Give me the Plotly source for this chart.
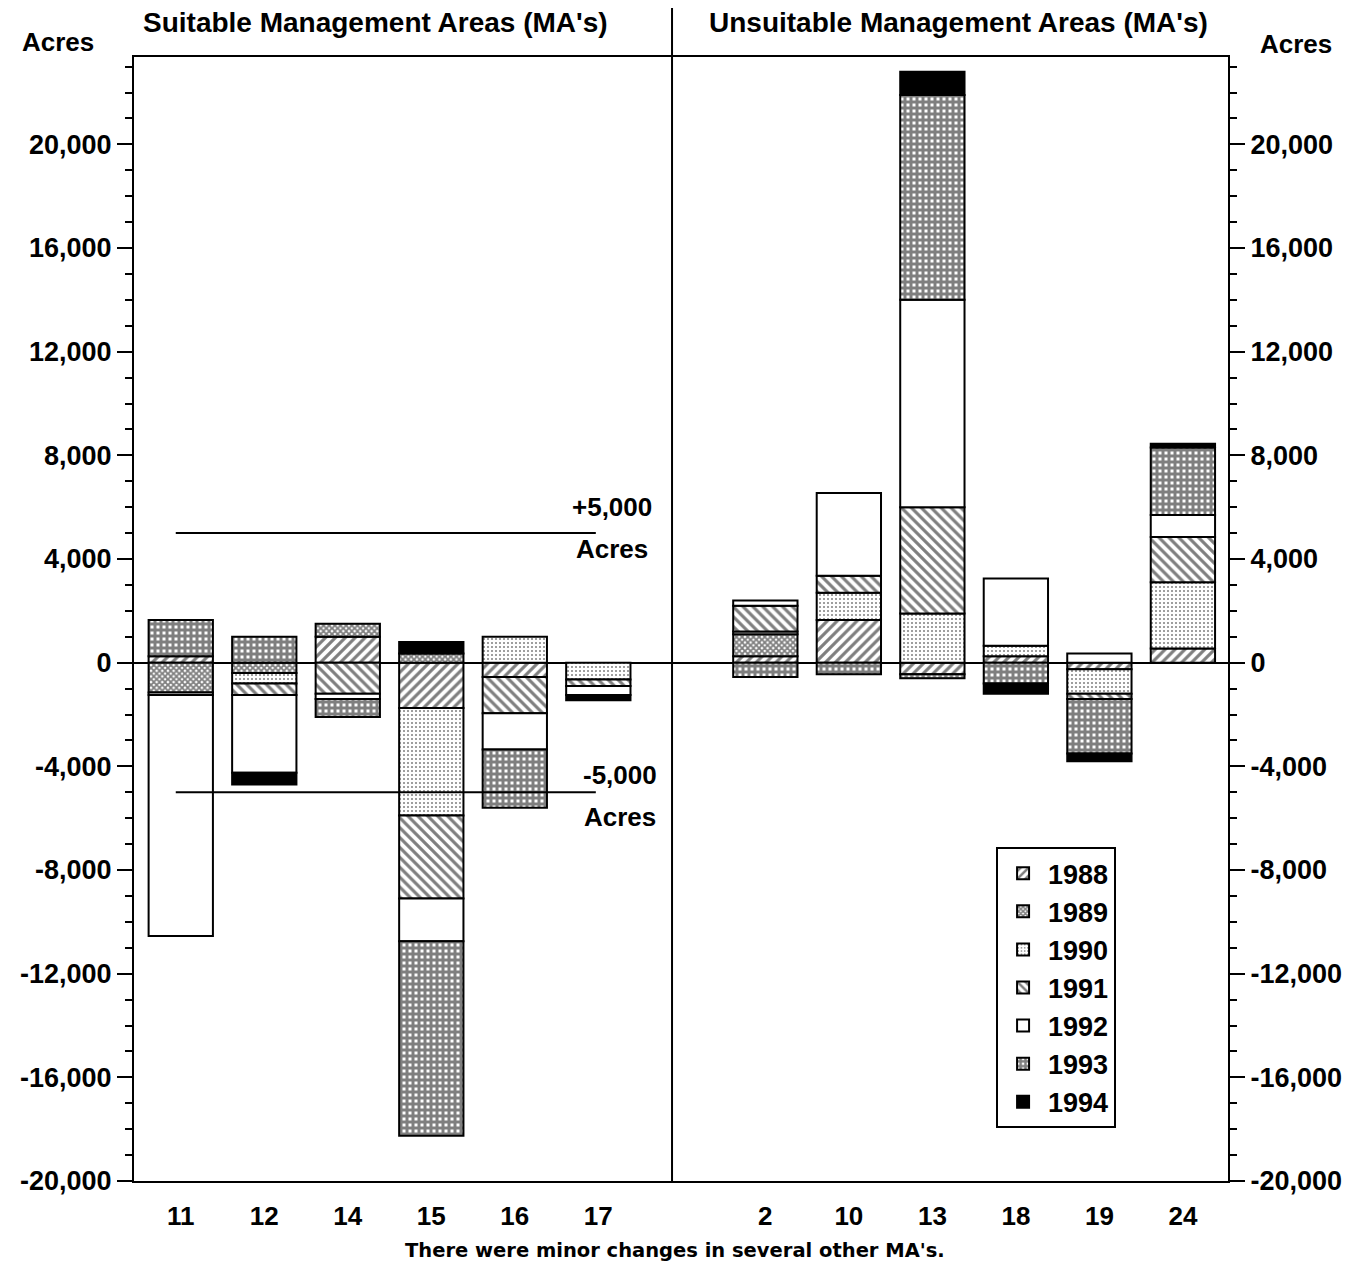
import plotly.graph_objects as go

# ---------------- data ----------------
suitable = ["11", "12", "14", "15", "16", "17"]
unsuitable = ["2", "10", "13", "18", "19", "24"]
mas = suitable + unsuitable
spacer = " "
years = ["1988", "1989", "1990", "1991", "1992", "1993", "1994"]

#          11     12     14     15     16     17     2     10    13     18    19     24
v1988 = [250,  None,  1000, -1750, -550,  None,  250,  1650, -450,  250,  -250,  550]
v1989 = [-1150, -400,  500,   350,  None,  None,  850,  None, -150,  None, None,  None]
v1990 = [-100, -400,  None, -4150,  1000, -650,  100,  1050, 1900,  400,  -950,  2550]
v1991 = [None, -450, -1200, -3200, -1400, -250, 1000,  650,  4100,  None, -200,  1750]
v1992 = [-9300, -3000, -200, -1650, -1400, -350,  200,  3200, 8000,  2600, 350,   850]
v1993 = [1400, 1000,  -700, -7500, -2250,  None, -550, -450,  7900, -800, -2100, 2600]
v1994 = [None, -450,  None,  450,   None,  -200, None,  None, 900,   -400, -300,  150]
series = [v1988, v1989, v1990, v1991, v1992, v1993, v1994]

ytickvals = [-20000, -16000, -12000, -8000, -4000, 0, 4000, 8000, 12000, 16000, 20000]
yticktext = ["-20,000", "-16,000", "-12,000", "-8,000", "-4,000", "0",
             "4,000", "8,000", "12,000", "16,000", "20,000"]
ref_levels = [5000, -5000]

# ---------------- styles ----------------
patterns = [
    dict(shape="/", fgcolor="black", bgcolor="white", size=7, solidity=0.45),
    dict(shape="x", fgcolor="black", bgcolor="white", size=4, solidity=0.7),
    dict(shape=".", fgcolor="black", bgcolor="white", size=4, solidity=0.2),
    dict(shape="\\", fgcolor="black", bgcolor="white", size=7, solidity=0.45),
    dict(shape="", fgcolor="black", bgcolor="white"),
    dict(shape="+", fgcolor="black", bgcolor="white", size=6, solidity=0.75),
    dict(shape="", fgcolor="black", bgcolor="black"),
]
colors = ["white", "white", "white", "white", "white", "white", "black"]

FONT = "Liberation Sans, Arial, sans-serif"

fig = go.Figure()
for yr, vals, pat, col in zip(years, series, patterns, colors):
    fig.add_trace(go.Bar(
        x=mas, y=vals, name=yr, legendgroup=yr,
        marker=dict(color=col, pattern=pat, line=dict(color="black", width=2)),
    ))

# invisible trace to carry the right-hand axis
fig.add_trace(go.Scatter(x=[None], y=[None], yaxis="y2", showlegend=False,
                         hoverinfo="skip"))

yrange = [-20000, 23370]
yax_common = dict(
    range=yrange, tickvals=ytickvals, ticktext=yticktext,
    ticks="outside", ticklen=15, tickwidth=2, tickcolor="black",
    minor=dict(dtick=1000, ticks="outside", ticklen=7, tickwidth=1.5, tickcolor="black"),
    showline=True, linecolor="black", linewidth=2, showgrid=False,
    tickfont=dict(family=FONT, size=27, color="black", weight="bold"),
)

fig.update_layout(
    width=1353, height=1271,
    margin=dict(l=126, r=133, t=49, b=98),
    paper_bgcolor="white", plot_bgcolor="white",
    barmode="relative", bargap=0.23,
    showlegend=True,
    legend=dict(
        x=0.788, y=0.297, xanchor="left", yanchor="top",
        traceorder="normal", tracegroupgap=19,
        bordercolor="black", borderwidth=2, bgcolor="white",
        font=dict(family=FONT, size=27, color="black", weight="bold"),
        itemwidth=40,
    ),
    xaxis=dict(
        type="category", categoryorder="array",
        categoryarray=suitable + [spacer] + unsuitable,
        range=[-0.56, 12.54],
        showline=True, linecolor="black", linewidth=2, mirror=True,
        ticks="outside", ticklen=11, tickcolor="rgba(0,0,0,0)",
        tickfont=dict(family=FONT, size=26, color="black", weight="bold"),
        showgrid=False, zeroline=False,
    ),
    yaxis=dict(**yax_common, zeroline=True, zerolinecolor="black", zerolinewidth=2),
    yaxis2=dict(**yax_common, overlaying="y", side="right", zeroline=False),
)

# +/- 5,000 reference lines
for lv in ref_levels:
    fig.add_shape(type="line", xref="x", yref="y", x0=-0.06, x1=4.97, y0=lv, y1=lv,
                  line=dict(color="black", width=2))

# divider between suitable and unsuitable groups
fig.add_shape(type="line", xref="paper", yref="paper", x0=0.4918, x1=0.4918,
              y0=0, y1=1.06, line=dict(color="black", width=2))
# outer frame (left and right edges)
for xp in [-0.1165, 1.116]:
    fig.add_shape(type="line", xref="paper", yref="paper", x0=xp, x1=xp,
                  y0=-0.09, y1=1.06, line=dict(color="black", width=2))

def txt(x, y, s, size, weight="bold"):
    fig.add_annotation(x=x, y=y, xref="paper", yref="paper", text=s, showarrow=False,
                       xanchor="center", yanchor="middle",
                       font=dict(family=FONT, size=size, color="black", weight=weight))

txt(0.2203, 1.031, "Suitable Management Areas (MA's)", 28)
txt(0.7532, 1.031, "Unsuitable Management Areas (MA's)", 28)
txt(-0.0695, 1.0133, "Acres", 26)
txt(1.062, 1.0116, "Acres", 26)
txt(0.437, 0.5996, "+5,000", 26)
txt(0.437, 0.5623, "Acres", 26)
txt(0.4442, 0.3612, "-5,000", 26)
txt(0.4442, 0.3238, "Acres", 26)
fig.add_annotation(x=0.4945, y=-0.0614, xref="paper", yref="paper",
                   text="There were minor changes in several other MA's.",
                   showarrow=False, xanchor="center", yanchor="middle",
                   font=dict(family="DejaVu Sans, sans-serif", size=19.5, color="black",
                             weight="bold"))

fig.write_html("out.html")
